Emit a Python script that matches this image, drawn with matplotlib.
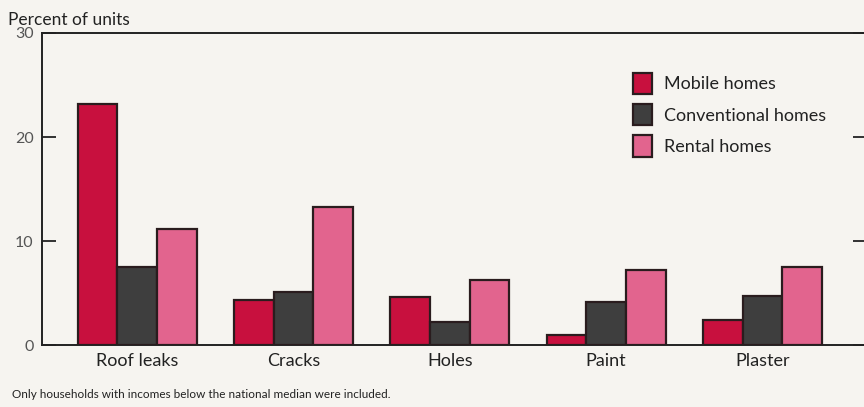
import numpy as np
import matplotlib
matplotlib.use("Agg")
import matplotlib.pyplot as plt

categories = ["Roof leaks", "Cracks", "Holes", "Paint", "Plaster"]
series_names = ["Mobile homes", "Conventional homes", "Rental homes"]
mobile = [23.2, 4.3, 4.6, 1.0, 2.4]
conventional = [7.5, 5.1, 2.2, 4.1, 4.7]
rental = [11.2, 13.3, 6.3, 7.2, 7.5]

plt.rcParams["font.family"] = ["Lato", "DejaVu Sans"]

bg = "#f6f4f0"
colors = ["#c8103e", "#3e3e3e", "#e2648e"]
edge = "#2a1c1e"

fig = plt.figure(figsize=(8.64, 4.07), dpi=100, facecolor=bg)
ax = fig.add_axes([0.0486, 0.152, 0.955, 0.767], facecolor=bg)

x = np.arange(len(categories))
w = 0.254
for i, (vals, name) in enumerate(zip([mobile, conventional, rental], series_names)):
    ax.bar(x + (i - 1) * w, vals, width=w, color=colors[i], edgecolor=edge,
           linewidth=1.6, label=name, zorder=3)

ax.set_xlim(-0.61, 4.67)
ax.set_ylim(0, 30)
ax.set_yticks([0, 10, 20, 30])
ax.set_yticklabels(["0", "10", "20", "30"], color="#555555", fontsize=11.5)
ax.tick_params(axis="y", direction="in", length=10, width=1.3, color="#222222",
               pad=6, right=True)
ax.set_xticks(x)
ax.set_xticklabels(categories, fontsize=13, color="#222222")
ax.tick_params(axis="x", length=0, pad=6)

for s in ["left", "top", "bottom"]:
    ax.spines[s].set_linewidth(1.4)
    ax.spines[s].set_color("#222222")
ax.spines["right"].set_visible(False)

fig.text(0.009, 0.938, "Percent of units", fontsize=12.5, color="#222222")
fig.text(0.014, 0.022, "Only households with incomes below the national median were included.",
         fontsize=8.5, color="#222222")

leg = ax.legend(loc="upper left", bbox_to_anchor=(0.697, 0.925), frameon=False,
                fontsize=13, handlelength=1.05, handleheight=1.45, handletextpad=0.65,
                labelspacing=0.55, labelcolor="#222222")

fig.savefig("out.png", dpi=100, facecolor=bg)
